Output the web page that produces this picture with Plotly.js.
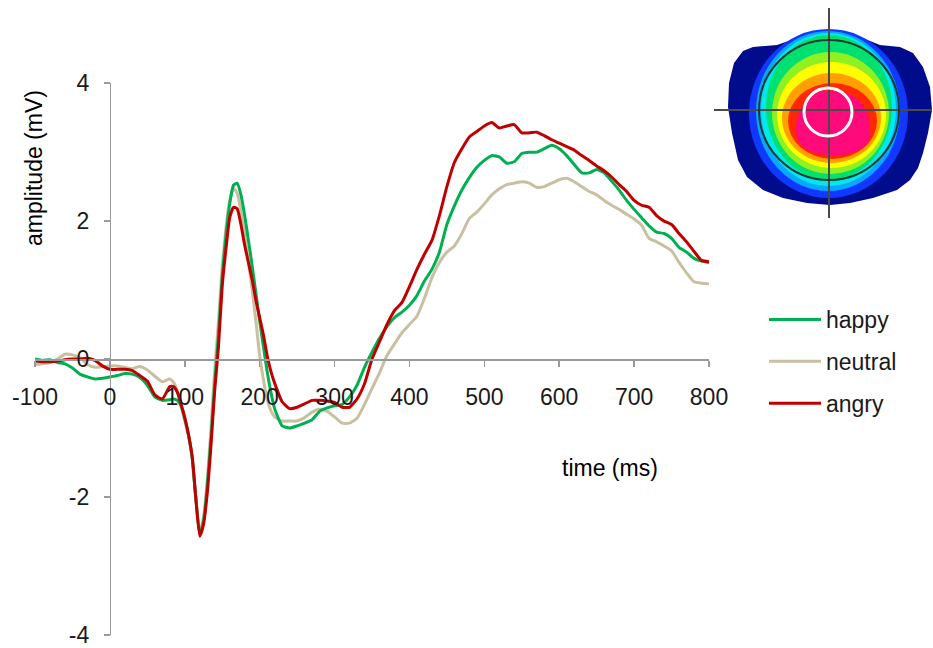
<!DOCTYPE html>
<html>
<head>
<meta charset="utf-8">
<script src="https://cdn.plot.ly/plotly-3.0.1.min.js"></script>
<style>html,body{margin:0;padding:0;background:#fff;}#chart{width:933px;height:648px;}</style>
</head>
<body>
<div id="chart"></div>
<script>
// time points (ms)
var timeMs = [-100,-90,-80,-70,-60,-50,-40,-30,-20,-10,0,10,20,30,40,50,60,70,80,
  85,90,95,100,105,110,115,120,125,130,135,140,145,150,155,160,165,170,175,180,185,190,195,200,205,210,215,220,
  230,240,250,260,270,280,290,300,310,320,330,340,350,360,370,380,390,400,410,420,430,440,450,460,470,480,490,500,
  510,520,530,540,550,560,570,580,590,600,610,620,630,640,650,660,670,680,690,700,710,720,730,740,750,760,770,780,790,800];

var happy = [0.00,-0.02,-0.01,-0.05,-0.07,-0.13,-0.22,-0.26,-0.29,-0.28,-0.26,-0.24,-0.21,-0.22,-0.27,-0.38,-0.55,-0.60,-0.59,
  -0.58,-0.60,-0.68,-0.86,-1.10,-1.45,-2.05,-2.55,-2.35,-1.85,-1.15,-0.35,0.35,1.20,1.80,2.25,2.52,2.55,2.38,2.08,1.72,1.35,0.95,0.55,0.18,-0.18,-0.48,-0.72,
  -0.97,-1.00,-0.97,-0.93,-0.88,-0.76,-0.71,-0.68,-0.66,-0.55,-0.38,-0.12,0.10,0.30,0.47,0.60,0.68,0.78,0.92,1.13,1.30,1.55,1.95,2.22,2.45,2.63,2.78,2.88,
  2.95,2.93,2.84,2.86,2.98,3.00,3.00,3.05,3.10,3.05,2.95,2.82,2.70,2.70,2.75,2.70,2.58,2.45,2.30,2.17,2.05,1.93,1.84,1.82,1.75,1.62,1.55,1.46,1.42,1.40];

var neutral = [-0.08,-0.07,-0.05,0.00,0.07,0.06,0.02,-0.08,-0.12,-0.11,-0.10,-0.10,-0.12,-0.14,-0.11,-0.16,-0.25,-0.33,-0.29,
  -0.34,-0.46,-0.68,-0.90,-1.12,-1.45,-2.05,-2.52,-2.30,-1.75,-1.00,-0.15,0.55,1.35,1.90,2.30,2.48,2.40,2.15,1.80,1.40,1.00,0.55,0.05,-0.30,-0.58,-0.75,-0.84,
  -0.90,-0.90,-0.90,-0.85,-0.77,-0.73,-0.76,-0.84,-0.93,-0.93,-0.86,-0.66,-0.43,-0.20,0.05,0.22,0.38,0.50,0.62,0.88,1.18,1.40,1.55,1.64,1.82,2.04,2.13,2.25,
  2.38,2.47,2.53,2.55,2.57,2.55,2.49,2.50,2.55,2.60,2.62,2.57,2.50,2.43,2.38,2.30,2.23,2.17,2.10,2.03,1.94,1.75,1.70,1.64,1.57,1.40,1.25,1.12,1.10,1.09];

var angry = [-0.03,-0.04,-0.04,-0.03,-0.01,0.00,0.00,0.01,-0.02,-0.10,-0.15,-0.15,-0.15,-0.17,-0.24,-0.32,-0.52,-0.58,-0.40,
  -0.40,-0.48,-0.65,-0.85,-1.10,-1.42,-2.05,-2.57,-2.40,-1.95,-1.25,-0.45,0.18,1.06,1.60,2.05,2.20,2.18,1.95,1.65,1.40,1.15,0.85,0.60,0.35,0.05,-0.18,-0.35,
  -0.62,-0.72,-0.70,-0.65,-0.60,-0.60,-0.61,-0.63,-0.70,-0.70,-0.58,-0.36,0.00,0.25,0.50,0.70,0.82,1.05,1.30,1.52,1.72,2.08,2.50,2.85,3.05,3.22,3.30,3.38,
  3.43,3.35,3.38,3.40,3.28,3.28,3.29,3.24,3.18,3.13,3.08,3.03,2.95,2.88,2.80,2.73,2.64,2.53,2.43,2.30,2.23,2.20,2.08,2.00,1.95,1.82,1.70,1.56,1.43,1.41];

var seriesNames = ['happy','neutral','angry'];
var seriesColors = ['#00b050','#c8c0a0','#c00000'];
var xTicks = [-100,0,100,200,300,400,500,600,700,800];
var yTicks = [-4,-2,0,2,4];

var FONT = 'Liberation Sans, Arial, sans-serif';

function mk(name, y, color, rank) {
  return {
    type: 'scatter', mode: 'lines', name: name, x: timeMs, y: y,
    line: {color: color, width: 3, shape: 'spline', smoothing: 0.5},
    legendrank: rank, legendgroup: name
  };
}
var traces = [
  mk(seriesNames[1], neutral, seriesColors[1], 2),
  mk(seriesNames[0], happy, seriesColors[0], 1),
  mk(seriesNames[2], angry, seriesColors[2], 3)
];

var W = 933, H = 648, MB = 13, HP = H - MB;
function fx(px){ return px / W; }
function fy(py){ return 1 - py / HP; }

// topographic map drawn with layout shapes on hidden pixel-scaled axes
var shapes = [];
function P(pts){ return 'M' + pts.map(function(p){return p[0]+','+p[1];}).join(' L') + ' Z'; }
var headOutline = [[753,47],[777,45],[797,38],[817,33],[830,30],[843,32],[860,37],[880,45],[900,47],[913,53],[923,67],[930,87],[932,110],[928,133],[923,153],[918,168],[910,180],[897,190],[873,198],[850,203],[830,205],[807,203],[783,198],[763,190],[747,177],[738,160],[732,133],[728,107],[729,83],[734,63],[743,51]];
shapes.push({type:'path', xref:'x2', yref:'y2', path:P(headOutline), fillcolor:'#000c8c', line:{width:0}, layer:'above'});
var rings = [
  [749,908,29,198,'#1038ff'],
  [756,900,31,191,'#08a8ff'],
  [761,896,33,186,'#00e8ee'],
  [766,892,35,180,'#00e070'],
  [772,889,52,174,'#90f020'],
  [777,886,62,168,'#ffff00'],
  [782,881,73,163,'#ffa000'],
  [788,877,83,159,'#ff2800']
];
rings.forEach(function(r){
  shapes.push({type:'circle', xref:'x2', yref:'y2', x0:r[0], x1:r[1], y0:r[2], y1:r[3], fillcolor:r[4], line:{width:0}, layer:'above'});
});
shapes.push({type:'path', xref:'x2', yref:'y2', layer:'above', fillcolor:'#ff0a7a', line:{width:0},
  path:'M 818 92 Q 848 87 862 104 Q 874 122 868 143 Q 855 157 828 155 Q 802 153 797 138 Q 793 120 803 105 Q 810 94 818 92 Z'});
shapes.push({type:'line', xref:'x2', yref:'y2', x0:829, x1:829, y0:8, y1:218, line:{color:'#4a4a4a', width:2}, layer:'above'});
shapes.push({type:'line', xref:'x2', yref:'y2', x0:714, x1:932, y0:110, y1:110, line:{color:'#4a4a4a', width:2}, layer:'above'});
shapes.push({type:'circle', xref:'x2', yref:'y2', x0:759, x1:899, y0:40, y1:180, line:{color:'#1e3a2a', width:2}, layer:'above'});
shapes.push({type:'circle', xref:'x2', yref:'y2', x0:804, x1:852, y0:88, y1:136, line:{color:'#ffffff', width:3}, layer:'above'});

var px0 = 35, px1 = 709, py0 = 83, py1 = 635;
var xdom = [fx(px0), fx(px1)];
var ydom = [fy(py1), fy(py0)];

var layout = {
  width: W, height: H,
  margin: {l:0, r:0, t:0, b:MB},
  paper_bgcolor: '#ffffff', plot_bgcolor: 'rgba(0,0,0,0)',
  font: {family: FONT, size: 23, color: '#1a1a1a'},
  showlegend: true,
  legend: {x: fx(764), y: fy(298), xanchor: 'left', yanchor: 'top', bgcolor: 'rgba(0,0,0,0)',
    font: {family: FONT, size: 23, color: '#1a1a1a'}, tracegroupgap: 9, itemwidth: 52},
  xaxis: {
    domain: xdom, range: [-100, 800], anchor: 'free', position: ydom[0] + (ydom[1]-ydom[0])*0.5,
    tickmode: 'array', tickvals: xTicks, ticktext: xTicks.map(String),
    showgrid: false, zeroline: false, showline: true, linecolor: '#9a9a9a', linewidth: 1.5,
    ticks: 'outside', ticklen: 6, tickcolor: '#9a9a9a', tickwidth: 1.5, ticklabelstandoff: 11,
    tickfont: {family: FONT, size: 23, color: '#1a1a1a'}, fixedrange: true
  },
  yaxis: {
    domain: ydom, range: [-4.003, 4.003], anchor: 'free', position: xdom[0] + (xdom[1]-xdom[0])*(100/900),
    tickmode: 'array', tickvals: yTicks, ticktext: yTicks.map(String),
    showgrid: false, zeroline: false, showline: true, linecolor: '#9a9a9a', linewidth: 1.5,
    ticks: 'outside', ticklen: 6, tickcolor: '#9a9a9a', tickwidth: 1.5, ticklabelstandoff: 10,
    tickfont: {family: FONT, size: 23, color: '#1a1a1a'}, fixedrange: true
  },
  xaxis2: {domain: [0,1], range: [0, W], anchor: 'y2', visible: false, fixedrange: true},
  yaxis2: {domain: [0,1], range: [HP, 0], anchor: 'x2', visible: false, fixedrange: true},
  shapes: shapes,
  annotations: [
    {text: 'time (ms)', xref: 'paper', yref: 'paper', x: fx(610), y: fy(468), xanchor: 'center', yanchor: 'middle', showarrow: false,
      font: {family: FONT, size: 23, color: '#000000'}},
    {text: 'amplitude (mV)', xref: 'paper', yref: 'paper', x: fx(34), y: fy(168), xanchor: 'center', yanchor: 'middle', showarrow: false, textangle: -90,
      font: {family: FONT, size: 23, color: '#000000'}}
  ]
};

Plotly.newPlot('chart', traces, layout, {displayModeBar: false, staticPlot: true});
</script>
</body>
</html>
